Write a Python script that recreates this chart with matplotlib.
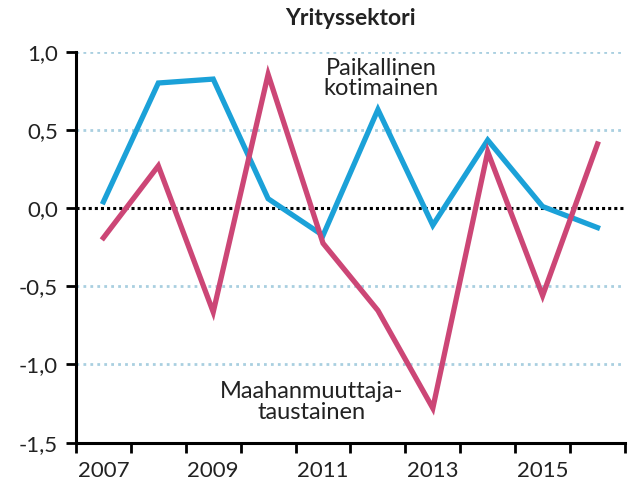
import matplotlib
matplotlib.use("Agg")
import matplotlib.pyplot as plt
from matplotlib.ticker import FixedLocator, NullFormatter

plt.rcParams['font.family'] = ['Lato', 'DejaVu Sans']

years = [2007, 2008, 2009, 2010, 2011, 2012, 2013, 2014, 2015, 2016]
paikallinen = [0.04, 0.80, 0.825, 0.06, -0.175, 0.63, -0.11, 0.435, 0.01, -0.125]
maahanmuuttaja = [-0.19, 0.27, -0.665, 0.855, -0.225, -0.655, -1.28, 0.36, -0.56, 0.41]
year_labels = ['2007', '', '2009', '', '2011', '', '2013', '', '2015', '']
yticks = [1.0, 0.5, 0.0, -0.5, -1.0, -1.5]
ytick_labels = ['1,0', '0,5', '0,0', '-0,5', '-1,0', '-1,5']

blue = '#1ba1d8'
pink = '#cc4676'

fig = plt.figure(figsize=(6.3, 4.88), dpi=100)
ax = fig.add_axes([0.1206, 0.093, 0.8714, 0.801])

x = list(range(len(years)))
for yv in [1.0, 0.5, -0.5, -1.0]:
    ax.axhline(yv, color='#a9cfe0', lw=2.0, ls=(0, (1, 1.5)), zorder=0)
ax.axhline(0, color='black', lw=2.2, ls=(0, (1, 1)), zorder=1)

ax.plot(x, paikallinen, color=blue, lw=3.8, solid_joinstyle='miter', zorder=3)
ax.plot(x, maahanmuuttaja, color=pink, lw=3.8, solid_joinstyle='miter', zorder=3)

ax.set_xlim(-0.5, len(years) - 0.5)
ax.set_ylim(-1.5, 1.0)
ax.set_yticks(yticks)
ax.set_yticklabels(ytick_labels)
ax.set_xticks(x)
ax.set_xticklabels(year_labels)
ax.xaxis.set_minor_locator(FixedLocator([i - 0.5 for i in range(len(years) + 1)]))
ax.xaxis.set_minor_formatter(NullFormatter())
ax.tick_params(axis='x', which='major', length=0, pad=13, labelsize=16, colors='#222222')
ax.tick_params(axis='x', which='minor', length=7, width=2, direction='out', color='black')
ax.tick_params(axis='y', length=7, width=2, direction='out', labelsize=16, pad=6, colors='#222222')
ax.tick_params(axis='both', color='black')

for s in ['top', 'right']:
    ax.spines[s].set_visible(False)
ax.spines['left'].set_linewidth(2.2)
ax.spines['bottom'].set_linewidth(2.2)

ax.text(5.06, 0.83, 'Paikallinen\nkotimainen', ha='center', va='center',
        fontsize=17, color='#222222', linespacing=0.95)
ax.text(3.79, -1.24, 'Maahanmuuttaja-\ntaustainen', ha='center', va='center',
        fontsize=17, color='#222222', linespacing=0.95)

fig.text(0.556, 0.962, 'Yrityssektori', ha='center', va='center',
         fontsize=16.5, fontweight='bold', color='#222222')

fig.savefig('out.png', dpi=100)
